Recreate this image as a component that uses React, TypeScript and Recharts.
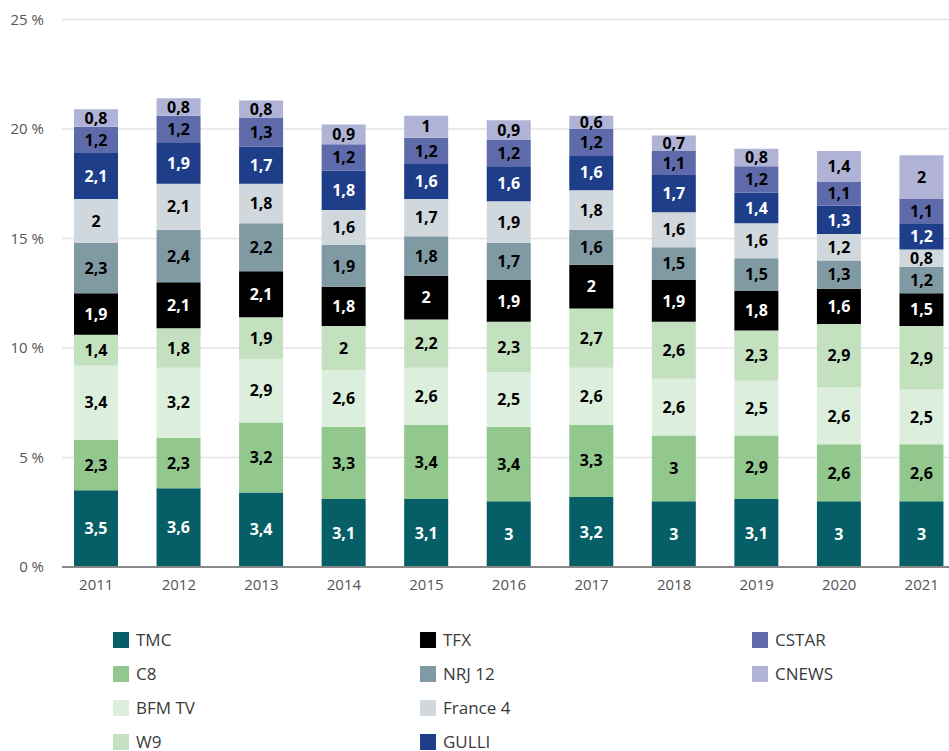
import React from "react";
import { BarChart, Bar, XAxis, YAxis, CartesianGrid, LabelList } from "recharts";

const years = ["2011", "2012", "2013", "2014", "2015", "2016", "2017", "2018", "2019", "2020", "2021"];
const TMC = [3.5, 3.6, 3.4, 3.1, 3.1, 3, 3.2, 3, 3.1, 3, 3];
const C8 = [2.3, 2.3, 3.2, 3.3, 3.4, 3.4, 3.3, 3, 2.9, 2.6, 2.6];
const BFMTV = [3.4, 3.2, 2.9, 2.6, 2.6, 2.5, 2.6, 2.6, 2.5, 2.6, 2.5];
const W9 = [1.4, 1.8, 1.9, 2, 2.2, 2.3, 2.7, 2.6, 2.3, 2.9, 2.9];
const TFX = [1.9, 2.1, 2.1, 1.8, 2, 1.9, 2, 1.9, 1.8, 1.6, 1.5];
const NRJ12 = [2.3, 2.4, 2.2, 1.9, 1.8, 1.7, 1.6, 1.5, 1.5, 1.3, 1.2];
const FRANCE4 = [2, 2.1, 1.8, 1.6, 1.7, 1.9, 1.8, 1.6, 1.6, 1.2, 0.8];
const GULLI = [2.1, 1.9, 1.7, 1.8, 1.6, 1.6, 1.6, 1.7, 1.4, 1.3, 1.2];
const CSTAR = [1.2, 1.2, 1.3, 1.2, 1.2, 1.2, 1.2, 1.1, 1.2, 1.1, 1.1];
const CNEWS = [0.8, 0.8, 0.8, 0.9, 1, 0.9, 0.6, 0.7, 0.8, 1.4, 2];
const yTicks = [0, 5, 10, 15, 20, 25];

const series = [
  { key: "TMC", name: "TMC", values: TMC, color: "#065f66", label: "#ffffff" },
  { key: "C8", name: "C8", values: C8, color: "#92c78e", label: "#000000" },
  { key: "BFMTV", name: "BFM TV", values: BFMTV, color: "#dcefdc", label: "#000000" },
  { key: "W9", name: "W9", values: W9, color: "#c3e0bf", label: "#000000" },
  { key: "TFX", name: "TFX", values: TFX, color: "#000000", label: "#ffffff" },
  { key: "NRJ12", name: "NRJ 12", values: NRJ12, color: "#7f9aa2", label: "#000000" },
  { key: "FRANCE4", name: "France 4", values: FRANCE4, color: "#d0d7dd", label: "#000000" },
  { key: "GULLI", name: "GULLI", values: GULLI, color: "#1e3e8a", label: "#ffffff" },
  { key: "CSTAR", name: "CSTAR", values: CSTAR, color: "#5e6aaa", label: "#000000" },
  { key: "CNEWS", name: "CNEWS", values: CNEWS, color: "#b0b3d6", label: "#000000" },
];

const data = years.map((y, i) => {
  const row: Record<string, any> = { year: y };
  series.forEach((s) => (row[s.key] = s.values[i]));
  return row;
});

const legendCols = [
  ["TMC", "C8", "BFMTV", "W9"],
  ["TFX", "NRJ12", "FRANCE4", "GULLI"],
  ["CSTAR", "CNEWS"],
];
const legendColX = [113, 420, 752];

const FONT = "'Open Sans', sans-serif";

export default function App() {
  return (
    <div style={{ position: "absolute", left: 0, top: 0, width: 949, height: 751, background: "#fff", fontFamily: FONT, overflow: "hidden" }}>
      <BarChart
        width={949}
        height={610}
        data={data}
        margin={{ top: 19.5, right: 0, bottom: 13, left: 0 }}
        barSize={44}
      >
        <CartesianGrid vertical={false} stroke="#e3e3e3" strokeWidth={1.5} />
        <XAxis
          dataKey="year"
          height={30}
          padding={{ left: -7, right: -14 }}
          tickLine={false}
          tickSize={0}
          tickMargin={12}
          axisLine={{ stroke: "#888888", strokeWidth: 2 }}
          tick={{ fill: "#555555", fontSize: 15, fontFamily: FONT }}
          interval={0}
        />
        <YAxis
          width={62}
          domain={[0, 25]}
          ticks={yTicks}
          axisLine={false}
          tickLine={false}
          tickSize={0}
          tickMargin={18}
          tickFormatter={(v: number) => `${v} %`}
          tick={{ fill: "#555555", fontSize: 15, fontFamily: FONT }}
        />
        {series.map((s) => (
          <Bar key={s.key} dataKey={s.key} name={s.name} stackId="a" fill={s.color} isAnimationActive={false}>
            <LabelList
              dataKey={s.key}
              position="center"
              formatter={(v: any) => String(v).replace(".", ",")}
              style={{ fill: s.label, fontSize: 16, fontWeight: 700, fontFamily: FONT }}
            />
          </Bar>
        ))}
      </BarChart>
      {legendCols.map((col, ci) =>
        col.map((k, ri) => {
          const s = series.find((x) => x.key === k)!;
          return (
            <div
              key={k}
              style={{ position: "absolute", left: legendColX[ci], top: 632 + ri * 34, height: 16, display: "flex", alignItems: "center", lineHeight: "16px" }}
            >
              <div style={{ width: 16, height: 16, background: s.color, flex: "none" }} />
              <span style={{ marginLeft: 7, fontSize: 17, color: "#3a3a3a", fontFamily: FONT, whiteSpace: "nowrap", lineHeight: "16px" }}>{s.name}</span>
            </div>
          );
        })
      )}
    </div>
  );
}
